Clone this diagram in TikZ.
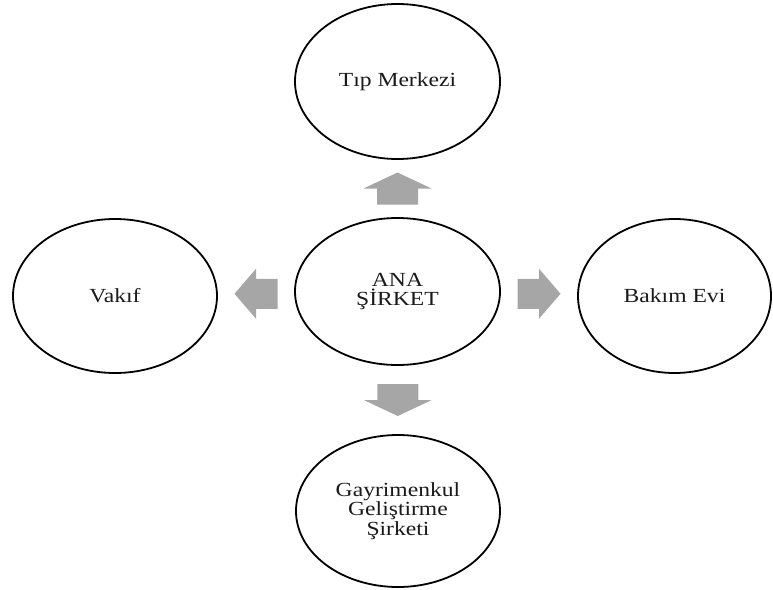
\documentclass[tikz,border=0pt]{standalone}
\usepackage{fontspec}
\setmainfont{Liberation Serif}[FakeStretch=1.18]
\usetikzlibrary{shapes.geometric,calc}
\definecolor{arrowgray}{HTML}{A6A6A6}
\definecolor{textgray}{HTML}{1A1A1A}
\tikzset{
  bubble/.style={draw=black, line width=1.8pt, ellipse, inner sep=0pt, outer sep=0pt,
    text=textgray, align=center, font=\fontsize{20}{19.5}\selectfont},
  blockarrow/.style={fill=arrowgray, draw=none}
}
% horizontal block arrow pointing +x, centred at origin
\newcommand{\hblock}{(-21.5,-15) -- (0,-15) -- (0,-25) -- (21.5,0) -- (0,25) -- (0,15) -- (-21.5,15) -- cycle}
\newcommand{\vblock}{(-16,-20.5) -- (0,-20.5) -- (0,-34) -- (16,0) -- (0,34) -- (0,20.5) -- (-16,20.5) -- cycle}
\begin{document}
\begin{tikzpicture}[x=1pt,y=1pt]
\useasboundingbox (0,0) rectangle (773,-589);
\node[bubble, minimum width=205pt, minimum height=155pt] (tip) at (397.5,-81.5) {Tıp Merkezi};
\node[bubble, minimum width=205pt, minimum height=147pt] (ana) at (397.5,-291.5) {ANA\\ŞİRKET};
\node[bubble, minimum width=204pt, minimum height=154pt] (vakif) at (115,-296) {Vakıf};
\node[bubble, minimum width=193pt, minimum height=154pt] (bakim) at (674.5,-296) {Bakım Evi};
\node[bubble, minimum width=204pt, minimum height=152pt] (gyr) at (398,-511) {Gayrimenkul\\Geliştirme\\Şirketi};
% block arrows
\fill[blockarrow, shift={($(ana.north)!0.5!(tip.south)$)}, rotate=90] \vblock;
\fill[blockarrow, shift={($(ana.south)!0.5!(gyr.north)$)}, rotate=-90] \vblock;
\fill[blockarrow, shift={($(ana.west)!0.5!(vakif.east)$)}, rotate=180] \hblock;
\fill[blockarrow, shift={($(ana.east)!0.5!(bakim.west)$)}] \hblock;
\end{tikzpicture}
\end{document}
